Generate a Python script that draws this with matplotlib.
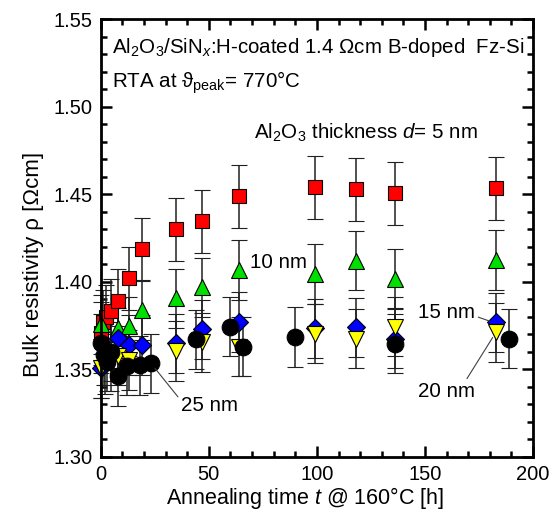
import matplotlib
matplotlib.use("Agg")
import matplotlib.pyplot as plt
from matplotlib.ticker import MultipleLocator

plt.rcParams['font.family'] = ['Liberation Sans', 'DejaVu Sans']
plt.rcParams['mathtext.fontset'] = 'custom'
plt.rcParams['mathtext.rm'] = 'Liberation Sans'
plt.rcParams['mathtext.it'] = 'Liberation Sans:italic'

# 5 nm Al2O3 (red squares)
t_5 = [0, 1, 2.5, 5, 8, 13, 19, 35, 47, 64, 99, 118, 136, 183]
rho_5 = [1.3705, 1.377, 1.380, 1.3835, 1.389, 1.402, 1.4187, 1.430, 1.4345, 1.449,
         1.4539, 1.4529, 1.4506, 1.4535]
err_5 = [0.018] * len(t_5)

# 10 nm (green triangles)
t_10 = [0, 8, 13, 19, 35, 47, 64, 99, 118, 136, 183]
rho_10 = [1.3757, 1.3735, 1.3745, 1.3838, 1.3905, 1.3968, 1.4067, 1.4044, 1.4121,
          1.4018, 1.4125]
err_10 = [0.017] * len(t_10)

# 15 nm (blue diamonds)
t_15 = [0, 2, 8, 13, 19, 35, 47, 64, 99, 118, 136, 183]
rho_15 = [1.3505, 1.353, 1.3678, 1.3638, 1.3638, 1.3648, 1.3728, 1.3771, 1.3733,
          1.3739, 1.3675, 1.3768]
err_15 = [0.017] * len(t_15)

# 20 nm (yellow down triangles)
t_20 = [0, 5, 8, 13, 35, 47, 64, 99, 118, 136, 183]
rho_20 = [1.3505, 1.3543, 1.3578, 1.3553, 1.3604, 1.3654, 1.3629, 1.3704, 1.3675,
          1.3743, 1.3710]
err_20 = [0.017] * len(t_20)

# 25 nm (black circles)
t_25 = [0, 1.5, 3, 5, 8, 12, 18, 23.5, 44, 60, 66, 90, 136, 189]
rho_25 = [1.3648, 1.3581, 1.3543, 1.360, 1.3460, 1.3520, 1.3522, 1.3534, 1.3671,
          1.3743, 1.3629, 1.3684, 1.3646, 1.3675]
err_25 = [0.017] * len(t_25)

series = [
    (t_5, rho_5, err_5, 's', '#ff0000', 10),
    (t_10, rho_10, err_10, '^', '#00e000', 11),
    (t_15, rho_15, err_15, 'D', '#0000ff', 9),
    (t_20, rho_20, err_20, 'v', '#ffff00', 11),
    (t_25, rho_25, err_25, 'o', '#000000', 12),
]

fig = plt.figure(figsize=(5.49, 5.11), dpi=100)
ax = fig.add_axes([0.1834, 0.1063, 0.7876, 0.8559])

for t, rho, err, mk, col, ms in series:
    lines = ax.errorbar(t, rho, yerr=err, fmt=mk, color='black', ecolor='#202020',
                        elinewidth=1.1, capsize=6, capthick=1.1, markersize=ms,
                        markerfacecolor=col, markeredgecolor='black',
                        markeredgewidth=0.8)
    for art in lines.lines[0:1] + tuple(lines.lines[1]) + tuple(lines.lines[2]):
        art.set_clip_on(False)

ax.set_xlim(0, 200)
ax.set_ylim(1.30, 1.55)
ax.xaxis.set_major_locator(MultipleLocator(50))
ax.xaxis.set_minor_locator(MultipleLocator(10))
ax.yaxis.set_major_locator(MultipleLocator(0.05))
ax.yaxis.set_minor_locator(MultipleLocator(0.01))
ax.yaxis.set_major_formatter(matplotlib.ticker.FormatStrFormatter('%.2f'))
ax.tick_params(which='both', direction='in', top=True, right=True,
               labelsize=14.5, width=1.8, pad=6)
ax.tick_params(which='major', length=8)
ax.tick_params(which='minor', length=4)
for sp in ax.spines.values():
    sp.set_linewidth(2)
    sp.set_zorder(5)

ax.set_xlabel('Annealing time $t$ @ 160°C [h]', fontsize=15.5, labelpad=1)
ax.set_ylabel('Bulk resistivity ρ [Ωcm]', fontsize=16, labelpad=7)
ax.xaxis.label.set_x(0.472)
ax.yaxis.label.set_y(0.44)

fs = 14.8
ax.text(0.027, 0.935, 'Al$_2$O$_3$/SiN$_x$:H-coated 1.4 Ωcm B-doped  Fz-Si',
        transform=ax.transAxes, fontsize=fs, va='center', ha='left')
ax.text(0.027, 0.855, 'RTA at ϑ$_{\\mathrm{peak}}$= 770°C',
        transform=ax.transAxes, fontsize=fs, va='center', ha='left')
ax.text(0.355, 0.74, 'Al$_2$O$_3$ thickness $d$= 5 nm',
        transform=ax.transAxes, fontsize=fs, va='center', ha='left')
ax.text(69, 1.411, '10 nm', fontsize=fs, va='center', ha='left')
ax.annotate('15 nm', xy=(181, 1.377), xytext=(147, 1.3825), fontsize=fs,
            va='center', ha='left',
            arrowprops=dict(arrowstyle='-', color='#404040', lw=0.8,
                            shrinkA=0, shrinkB=2, relpos=(1.0, 0.3)))
ax.annotate('20 nm', xy=(182, 1.3695), xytext=(147, 1.337), fontsize=fs,
            va='center', ha='left',
            arrowprops=dict(arrowstyle='-', color='#404040', lw=0.8,
                            shrinkA=0, shrinkB=2, relpos=(0.85, 1.2)))
ax.annotate('25 nm', xy=(23.5, 1.353), xytext=(37, 1.329), fontsize=fs,
            va='center', ha='left',
            arrowprops=dict(arrowstyle='-', color='#404040', lw=0.8,
                            shrinkA=0, shrinkB=4, relpos=(0.0, 0.8)))

fig.savefig('out.png', dpi=100)
